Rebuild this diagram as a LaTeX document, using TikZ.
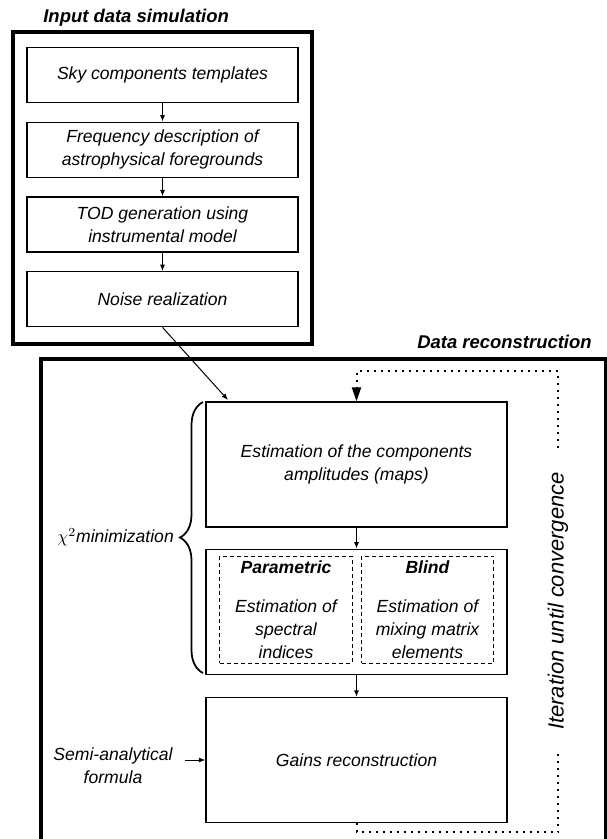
\documentclass[tikz,border=0pt]{standalone}
\usepackage{fontspec}
\setmainfont{Liberation Sans}
\usetikzlibrary{arrows.meta, positioning, decorations.pathreplacing}

\begin{document}
\begin{tikzpicture}[x=0.2mm, y=-0.2mm,
  font=\fontsize{10}{13}\selectfont\itshape,
  frame/.style={line width=0.65mm},
  stage/.style={
    draw,
    line width=0.25mm,
    rectangle,
    minimum width=54.2mm,
    minimum height=11mm,
    align=center,
    inner sep=0pt
  },
  block/.style={
    draw,
    line width=0.25mm,
    rectangle,
    minimum width=60.2mm,
    minimum height=25mm,
    align=center,
    inner sep=0pt
  },
  method/.style={
    draw,
    line width=0.2mm,
    dash pattern=on 0.8mm off 0.6mm,
    minimum width=26.4mm,
    minimum height=21.4mm,
    align=center,
    inner sep=0pt
  },
  heading/.style={font=\fontsize{10.5}{13}\selectfont\bfseries\itshape, inner sep=0pt},
  line/.style={-{Latex[length=1.3mm, width=1mm]}, line width=0.2mm},
  loop/.style={line width=0.4mm, dash pattern=on 0.4mm off 1mm},
  node distance=3.7mm
  ]
\useasboundingbox (0,0) rectangle (607,839);

% Input data simulation
\node[stage] (sky) at (162.5,75) {Sky components templates};
\node[stage, below=of sky] (freq) {Frequency description of\\astrophysical foregrounds};
\node[stage, below=of freq] (tod) {TOD generation using\\instrumental model};
\node[stage, below=of tod] (noise) {Noise realization};
\draw[frame] (13,32) rectangle (312,344);
\node[heading, anchor=west] (simtitle) at (43,18) {Input data simulation};

\draw[line] (sky) -- (freq);
\draw[line] (freq) -- (tod);
\draw[line] (tod) -- (noise);

% Data reconstruction
\draw[frame] (41,839) |- (606,359) -- (606,839);
\node[heading, anchor=east] (rectitle) at (592,342) {Data reconstruction};

\node[block] (amp) at (356.5,464.5) {Estimation of the components\\amplitudes (maps)};
\node[block, below=4.2mm of amp] (methods) {};
\node[block, below=4.4mm of methods] (gains) {Gains reconstruction};

\node[method] (param) at (286,609.5) {\textbf{Parametric}\\[3.2mm]Estimation of\\spectral\\indices};
\node[method] (blind) at (427.5,609.5) {\textbf{Blind}\\[3.2mm]Estimation of\\mixing matrix\\elements};

\coordinate (entry) at (228,400);
\draw[line] (noise.south) -- (entry);
\draw[line] (amp) -- (methods);
\draw[line] (methods) -- (gains);

% chi2 brace
\draw[line width=0.35mm, decorate, decoration={brace, amplitude=4.6mm}]
  (203,673) -- (203,402);
\node[anchor=east] (chisq) at (180,537.5) {$\chi^2$minimization};

% gains input
\node[align=center] (semi) at (113,766) {Semi-analytical\\formula};
\draw[line, shorten <=1.2mm] (semi.east |- gains.west) -- (gains.west);

% iteration loop
\coordinate (looptop) at (558,371);
\draw[loop, -{Triangle[length=2.8mm, width=1.8mm]}]
  (gains.south) -- ++(0,9) -| (looptop) -| (amp.north);
\node[rotate=90, fill=white, inner xsep=3.8mm, inner ysep=1mm,
  font=\fontsize{12.5}{15}\selectfont\itshape] (iter) at (558,601) {Iteration until convergence};

\end{tikzpicture}
\end{document}
